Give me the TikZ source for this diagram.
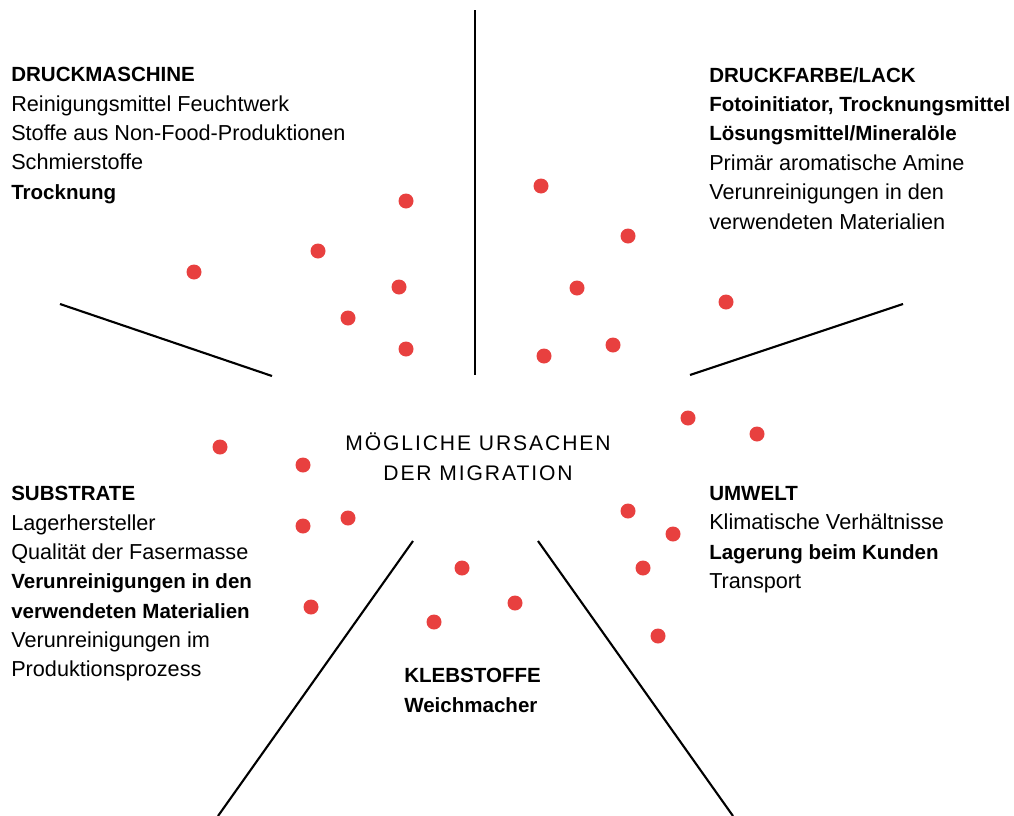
\documentclass[tikz,border=0pt]{standalone}
\usepackage{fontspec}
\setmainfont{Liberation Sans}
\definecolor{dotred}{RGB}{232,64,63}
\newcommand\hd[1]{{\fontsize{14.6}{20.9}\selectfont\bfseries #1}}
\tikzset{
  txt/.style={anchor=north west,inner sep=0pt,align=left,
    font=\fontsize{15.4}{20.9}\selectfont},
  spoke/.style={line width=1.5pt},
  dot/.style={circle,fill=dotred,inner sep=0pt,minimum size=15*0.025cm}
}
\begin{document}
\begin{tikzpicture}[x=0.025cm,y=-0.025cm]
\useasboundingbox (0,0) rectangle (1014,816);
% spokes
\draw[spoke] (475,10) -- (475,375);
\draw[spoke] (60,304) -- (272,376);
\draw[spoke] (690,375) -- (903,304);
\draw[spoke] (413,541) -- (218,816);
\draw[spoke] (538,541) -- (733,816);
% dots
\foreach \x/\y in {406/201,318/251,194/272,399/287,348/318,406/349,
  541/186,628/236,577/288,726/302,613/345,544/356,
  688/418,757/434,628/511,673/534,643/568,658/636,
  462/568,515/603,434/622,
  220/447,303/465,303/526,348/518,311/607}
  \node[dot] at (\x,\y) {};
% texts
\node[txt] (maschine) at (11,67) {\hd{DRUCKMASCHINE}\\
  Reinigungsmittel Feuchtwerk\\
  Stoffe aus Non-Food-Produktionen\\
  Schmierstoffe\\
  \hd{Trocknung}};
\node[txt] (farbe) at (709,67) {\hd{DRUCKFARBE/LACK}\\
  \hd{Fotoinitiator, Trocknungsmittel}\\
  \hd{Lösungsmittel/Mineralöle}\\
  Primär aromatische Amine\\
  Verunreinigungen in den\\
  verwendeten Materialien};
\node[txt] (substrate) at (11,486) {\hd{SUBSTRATE}\\
  Lagerhersteller\\
  Qualität der Fasermasse\\
  \hd{Verunreinigungen in den}\\
  \hd{verwendeten Materialien}\\
  Verunreinigungen im\\
  Produktionsprozess};
\node[txt] (umwelt) at (709,486) {\hd{UMWELT}\\
  Klimatische Verhältnisse\\
  \hd{Lagerung beim Kunden}\\
  Transport};
\node[txt] (kleb) at (404,668) {\hd{KLEBSTOFFE}\\
  \hd{Weichmacher}};
\node[txt,anchor=north,align=center,font=\fontsize{15}{20.9}\selectfont] (mitte) at (478,433)
  {\addfontfeature{LetterSpace=9}MÖGLICHE URSACHEN\\
   \addfontfeature{LetterSpace=9}DER MIGRATION};
\end{tikzpicture}
\end{document}
